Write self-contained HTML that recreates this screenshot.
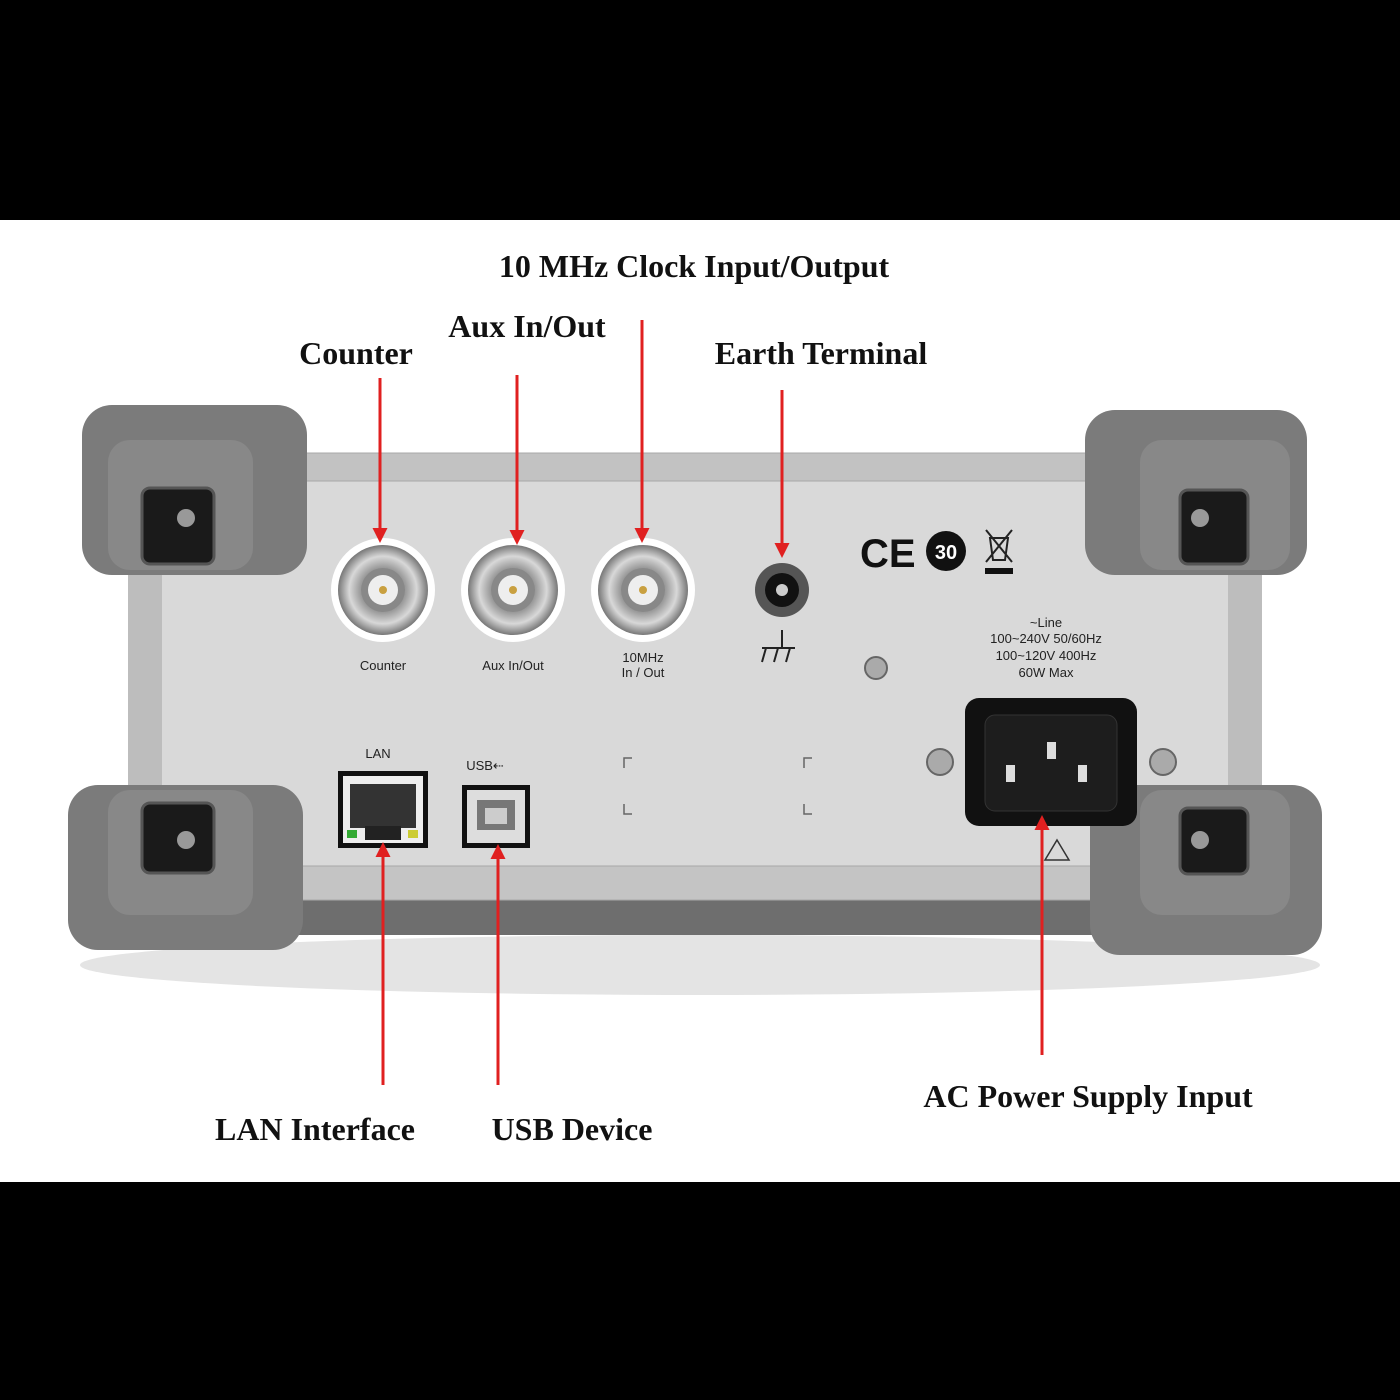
<!DOCTYPE html>
<html><head><meta charset="utf-8"><style>
html,body{margin:0;padding:0;background:#000;}
svg{display:block}
.lbl{font-family:"Liberation Serif",serif;font-weight:bold;font-size:32px;fill:#111;text-anchor:middle}
.sm{font-family:"Liberation Sans",sans-serif;font-size:13px;fill:#222;text-anchor:middle}
</style></head><body>
<svg width="1400" height="1400" viewBox="0 0 1400 1400" xmlns="http://www.w3.org/2000/svg">
<defs>
<marker id="ah" viewBox="0 0 10 10" refX="8" refY="5" markerWidth="5" markerHeight="5" orient="auto-start-reverse"><path d="M0,0L10,5L0,10z" fill="#e02020"/></marker>
<radialGradient id="bnc" cx="50%" cy="50%" r="50%"><stop offset="0" stop-color="#f4f4f4"/><stop offset="0.5" stop-color="#9a9a9a"/><stop offset="0.75" stop-color="#d8d8d8"/><stop offset="1" stop-color="#777"/></radialGradient>
</defs>
<rect width="1400" height="1400" fill="#000"/>
<rect y="220" width="1400" height="962" fill="#fff"/>
<ellipse cx="700" cy="965" rx="620" ry="30" fill="#e4e4e4"/>
<rect x="90" y="880" width="1220" height="55" rx="20" fill="#6e6e6e"/>
<rect x="150" y="470" width="1100" height="420" fill="#d9d9d9"/>
<rect x="128" y="560" width="34" height="240" fill="#bdbdbd"/>
<rect x="1228" y="560" width="34" height="240" fill="#bdbdbd"/>
<rect x="240" y="453" width="910" height="28" rx="8" fill="#c2c2c2" stroke="#a8a8a8"/>
<rect x="240" y="866" width="920" height="34" rx="8" fill="#c4c4c4" stroke="#a8a8a8"/>
<g fill="#7b7b7b">
<rect x="82" y="405" width="225" height="170" rx="30"/>
<rect x="68" y="785" width="235" height="165" rx="30"/>
<rect x="1085" y="410" width="222" height="165" rx="30"/>
<rect x="1090" y="785" width="232" height="170" rx="30"/>
</g>
<g fill="#888">
<rect x="108" y="440" width="145" height="130" rx="22"/>
<rect x="108" y="790" width="145" height="125" rx="22"/>
<rect x="1140" y="440" width="150" height="130" rx="22"/>
<rect x="1140" y="790" width="150" height="125" rx="22"/>
</g>
<g fill="#1a1a1a" stroke="#555" stroke-width="3">
<rect x="142" y="488" width="72" height="76" rx="8"/>
<rect x="142" y="803" width="72" height="70" rx="8"/>
<rect x="1180" y="490" width="68" height="74" rx="8"/>
<rect x="1180" y="808" width="68" height="66" rx="8"/>
</g>
<g fill="#999"><circle cx="186" cy="518" r="9"/><circle cx="186" cy="840" r="9"/><circle cx="1200" cy="518" r="9"/><circle cx="1200" cy="840" r="9"/></g>
<g>
<circle cx="383" cy="590" r="52" fill="#fff"/><circle cx="383" cy="590" r="45" fill="url(#bnc)"/><circle cx="383" cy="590" r="22" fill="#888"/><circle cx="383" cy="590" r="15" fill="#eee"/><circle cx="383" cy="590" r="4" fill="#c9a040"/>
<circle cx="513" cy="590" r="52" fill="#fff"/><circle cx="513" cy="590" r="45" fill="url(#bnc)"/><circle cx="513" cy="590" r="22" fill="#888"/><circle cx="513" cy="590" r="15" fill="#eee"/><circle cx="513" cy="590" r="4" fill="#c9a040"/>
<circle cx="643" cy="590" r="52" fill="#fff"/><circle cx="643" cy="590" r="45" fill="url(#bnc)"/><circle cx="643" cy="590" r="22" fill="#888"/><circle cx="643" cy="590" r="15" fill="#eee"/><circle cx="643" cy="590" r="4" fill="#c9a040"/>
</g>
<text class="sm" x="383" y="670">Counter</text>
<text class="sm" x="513" y="670">Aux In/Out</text>
<text class="sm" x="643" y="662">10MHz</text><text class="sm" x="643" y="677">In / Out</text>
<circle cx="782" cy="590" r="27" fill="#555"/><circle cx="782" cy="590" r="17" fill="#111"/><circle cx="782" cy="590" r="6" fill="#ccc"/>
<path d="M782 630V648M762 648H795M766 648l-4 14M778 648l-4 14M790 648l-4 14" stroke="#222" stroke-width="2" fill="none"/>
<circle cx="876" cy="668" r="11" fill="#aaa" stroke="#666" stroke-width="2"/>
<text x="860" y="567" font-family="Liberation Sans,sans-serif" font-weight="bold" font-size="40" fill="#111">CE</text>
<circle cx="946" cy="551" r="20" fill="#111"/><text x="946" y="559" font-family="Liberation Sans,sans-serif" font-weight="bold" font-size="20" fill="#fff" text-anchor="middle">30</text>
<path d="M986 530l26 32M1012 530l-26 32M990 538h18l-3 22h-12z" stroke="#222" stroke-width="2" fill="none"/><rect x="985" y="568" width="28" height="6" fill="#111"/>
<text class="sm" x="1046" y="627">~Line</text>
<text class="sm" x="1046" y="643">100~240V  50/60Hz</text>
<text class="sm" x="1046" y="660">100~120V    400Hz</text>
<text class="sm" x="1046" y="677">60W Max</text>
<rect x="965" y="698" width="172" height="128" rx="14" fill="#111"/>
<rect x="985" y="715" width="132" height="96" rx="10" fill="#1d1d1d" stroke="#333"/>
<g fill="#ddd"><rect x="1006" y="765" width="9" height="17"/><rect x="1047" y="742" width="9" height="17"/><rect x="1078" y="765" width="9" height="17"/></g>
<circle cx="940" cy="762" r="13" fill="#aaa" stroke="#666" stroke-width="2"/>
<circle cx="1163" cy="762" r="13" fill="#aaa" stroke="#666" stroke-width="2"/>
<path d="M1057 840l12 20h-24z" fill="none" stroke="#333" stroke-width="1.5"/>
<text class="sm" x="378" y="758">LAN</text>
<rect x="338" y="771" width="90" height="77" fill="#111"/><rect x="343" y="776" width="80" height="67" fill="#eee"/>
<rect x="350" y="784" width="66" height="44" fill="#333"/><rect x="365" y="826" width="36" height="14" fill="#222"/>
<rect x="347" y="830" width="10" height="8" fill="#3a3"/><rect x="408" y="830" width="10" height="8" fill="#cc3"/>
<text class="sm" x="485" y="770">USB⇠</text>
<rect x="462" y="785" width="68" height="63" fill="#111"/><rect x="467" y="790" width="58" height="53" fill="#ddd"/>
<rect x="477" y="800" width="38" height="30" fill="#777"/><rect x="485" y="808" width="22" height="16" fill="#ccc"/>
<path d="M624 768v-10h8M812 758h-8v10M624 804v10h8M812 814h-8v-10" stroke="#666" fill="none" stroke-width="1.5"/>
<g stroke="#e02020" stroke-width="3" marker-end="url(#ah)">
<line x1="380" y1="378" x2="380" y2="540"/>
<line x1="517" y1="375" x2="517" y2="542"/>
<line x1="642" y1="320" x2="642" y2="540"/>
<line x1="782" y1="390" x2="782" y2="555"/>
<line x1="383" y1="1085" x2="383" y2="845"/>
<line x1="498" y1="1085" x2="498" y2="847"/>
<line x1="1042" y1="1055" x2="1042" y2="818"/>
</g>
<text class="lbl" x="694" y="277">10 MHz Clock Input/Output</text>
<text class="lbl" x="527" y="337">Aux In/Out</text>
<text class="lbl" x="356" y="364">Counter</text>
<text class="lbl" x="821" y="364">Earth Terminal</text>
<text class="lbl" x="315" y="1140">LAN Interface</text>
<text class="lbl" x="572" y="1140">USB Device</text>
<text class="lbl" x="1088" y="1107">AC Power Supply Input</text>
</svg>
</body></html>
